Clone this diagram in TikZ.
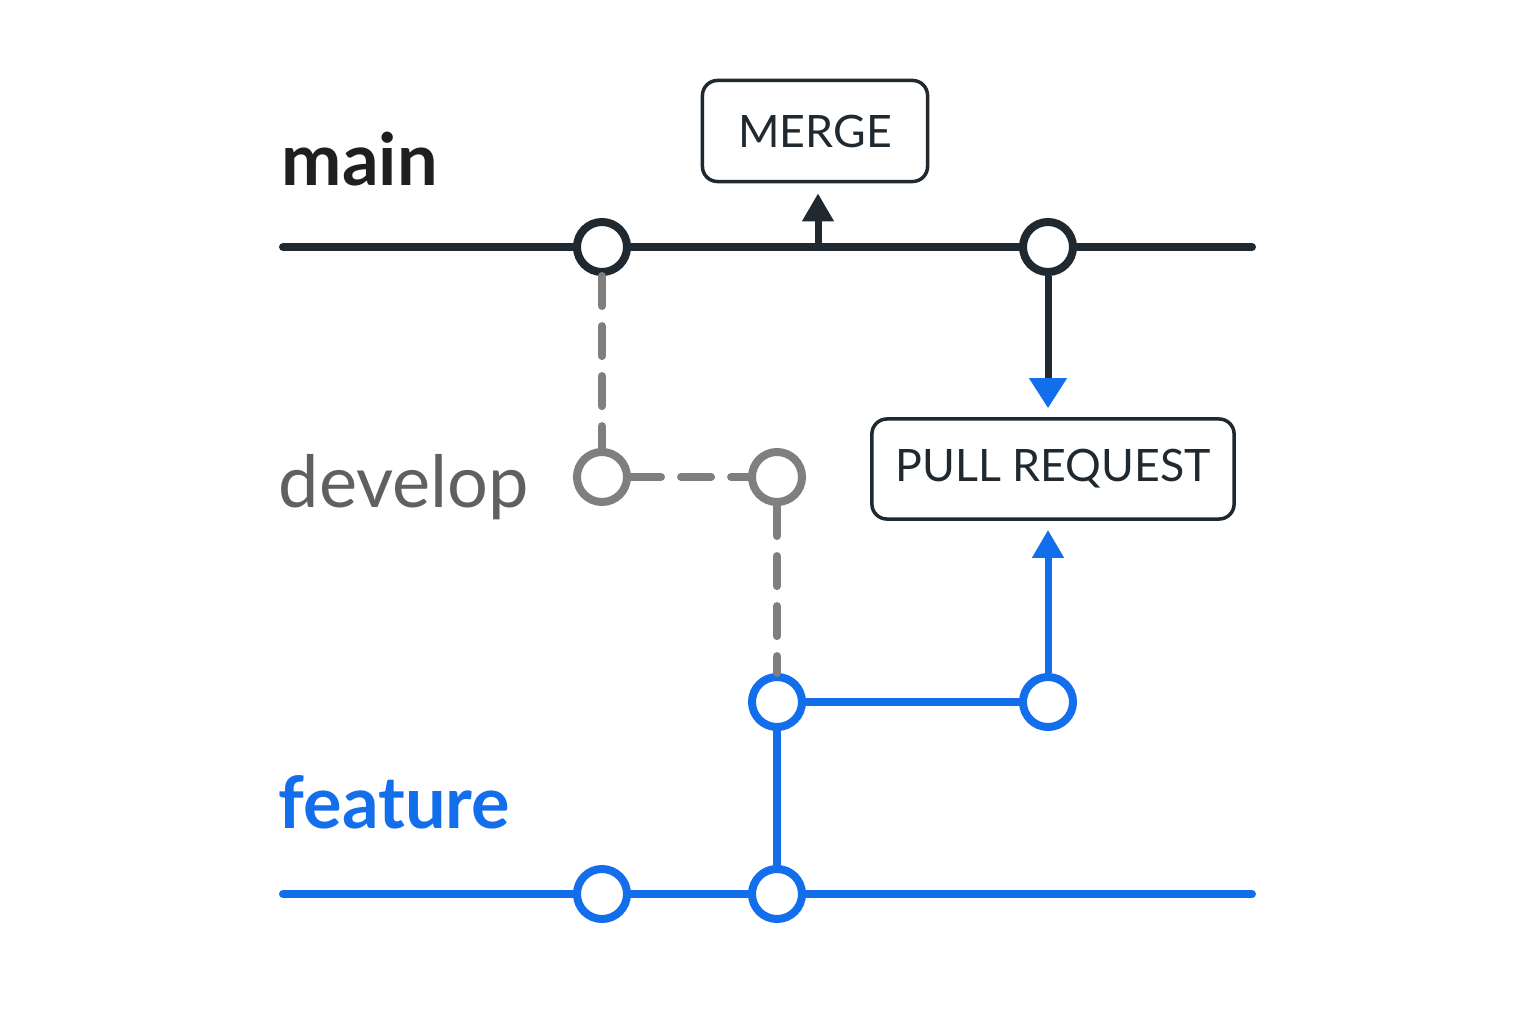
\documentclass[tikz,border=0pt]{standalone}
\usepackage{fontspec}
\setmainfont{Lato}
\usetikzlibrary{arrows.meta,positioning}
\definecolor{mdark}{HTML}{1F292F}
\definecolor{dgrey}{HTML}{7F7F7F}
\definecolor{dtext}{HTML}{606060}
\definecolor{fblue}{HTML}{136EEB}
\tikzset{commit/.style={circle,draw,fill=white,line width=0.8mm,minimum size=5mm,inner sep=0pt}}
\tikzset{branch/.style={line width=0.8mm,line cap=round}}
\tikzset{dashbranch/.style={line width=0.8mm,line cap=round,dgrey,dash pattern=on 3mm off 2mm}}
\tikzset{action/.style={draw=mdark,line width=0.35mm,rounded corners=1.5mm,fill=white,text=mdark,font=\fontsize{12.7}{15}\selectfont}}
\tikzset{label/.style={anchor=base west,inner sep=0pt,font=\fontsize{20.5}{24}\selectfont}}
\tikzset{boldlabel/.style={label,font=\fontsize{20.5}{24}\selectfont\bfseries}}
\tikzset{>={Triangle[width=3mm,length=2.8mm]}}

\begin{document}
\begin{tikzpicture}[x=0.01cm,y=-0.01cm]
            \useasboundingbox (0,0) rectangle (1536,1024);
            % branch labels
            \node[boldlabel,text=black!88] (lmain) at (281,185) {main};
            \node[label,text=dtext] (ldev) at (278,507) {develop};
            \node[boldlabel,text=fblue] (lfeat) at (278,828) {feature};
            % commits
            \coordinate (ms) at (283,247);
            \coordinate (me) at (1252,247);
            \coordinate (mj) at (818,247);
            \coordinate (fs) at (283,894);
            \coordinate (fe) at (1252,894);
            \node[commit,draw=mdark] (m1) at (602,247) {};
            \node[commit,draw=mdark] (m2) at (1048,247) {};
            \node[commit,draw=dgrey] (d1) at (602,477) {};
            \node[commit,draw=dgrey] (d2) at (777,477) {};
            \node[commit,draw=fblue] (fa) at (777,702) {};
            \node[commit,draw=fblue] (fb) at (1048,702) {};
            \node[commit,draw=fblue] (f1) at (602,894) {};
            \node[commit,draw=fblue] (f2) at (777,894) {};
            % boxes
            \node[action,minimum width=2.25cm,minimum height=1.01cm] (merge) at (815,131) {MERGE};
            \node[action,minimum width=3.62cm,minimum height=1cm] (pr) at (1053,469) {PULL REQUEST};
            % lines
            \draw[branch,mdark] (ms) -- (m1) -- (m2) -- (me);
            \draw[branch,fblue] (fs) -- (f1) -- (f2) -- (fe);
            \draw[dashbranch] (m1) -- (d1);
            \draw[dashbranch] (d1) -- (d2);
            \draw[dashbranch] (d2) -- (fa);
            \draw[branch,fblue] (fa) -- (fb);
            \draw[branch,fblue] (fa) -- (f2);
            \draw[line width=0.7mm,mdark,->,shorten >=1mm] (mj) -- (merge.south -| mj);
            \draw[line width=0.7mm,mdark,-{Triangle[width=3.6mm,length=3mm,color=fblue]},shorten >=0.9mm] (m2) -- (pr.north -| m2);
            \draw[line width=0.7mm,fblue,->,shorten >=0.9mm] (fb) -- (pr.south -| fb);
        \end{tikzpicture}
\end{document}
